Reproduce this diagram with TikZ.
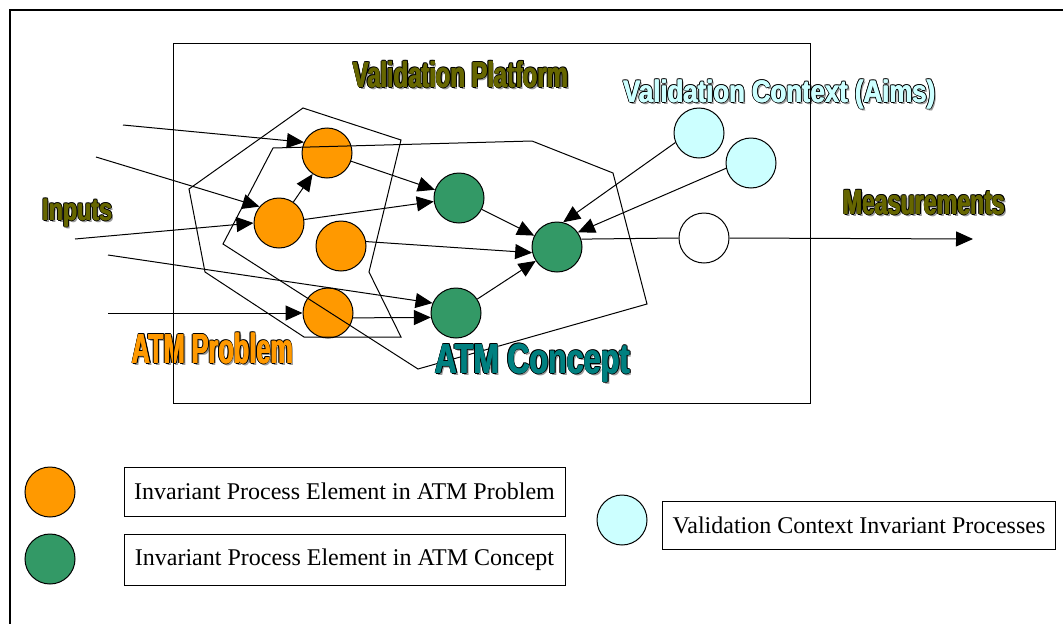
\documentclass[tikz,border=0pt]{standalone}
\usepackage{graphicx}
\usepackage{fontspec}
\setmainfont{Liberation Serif}
\newfontfamily\wafont{Liberation Sans}
\usetikzlibrary{arrows.meta}
\definecolor{orangeA}{HTML}{FF9900}
\definecolor{greenA}{HTML}{339966}
\definecolor{cyanA}{HTML}{CCFFFF}
\definecolor{oliveA}{HTML}{666600}
\definecolor{tealA}{HTML}{008080}
\newcommand{\wordart}[4]{%
  \setbox0=\hbox{\resizebox{#3}{\height}{\wafont\bfseries\fontsize{#2}{#2}\selectfont #4}}%
  \rlap{\kern2pt\raisebox{-2pt}{\textcolor{black!40}{\copy0}}}%
  \rlap{\kern1.2pt\textcolor{black}{\copy0}}%
  \rlap{\kern-1.2pt\textcolor{black}{\copy0}}%
  \rlap{\raisebox{1pt}{\textcolor{black}{\copy0}}}%
  \rlap{\raisebox{-1pt}{\textcolor{black}{\copy0}}}%
  \rlap{\kern0.9pt\raisebox{0.8pt}{\textcolor{black}{\copy0}}}%
  \rlap{\kern-0.9pt\raisebox{0.8pt}{\textcolor{black}{\copy0}}}%
  \rlap{\kern0.9pt\raisebox{-0.8pt}{\textcolor{black}{\copy0}}}%
  \rlap{\kern-0.9pt\raisebox{-0.8pt}{\textcolor{black}{\copy0}}}%
  \rlap{\kern0.4pt\textcolor{#1}{\copy0}}%
  \rlap{\kern-0.4pt\textcolor{#1}{\copy0}}%
  \textcolor{#1}{\copy0}}
\tikzset{
  proc/.style={circle, draw=black, line width=1pt, minimum size=50pt, inner sep=0pt},
  procP/.style={proc, fill=orangeA},
  procC/.style={proc, fill=greenA},
  procV/.style={proc, fill=cyanA},
  procW/.style={proc, fill=white},
  link/.style={line width=1pt},
  arr/.style={line width=1pt, -{Triangle[length=17pt,width=15pt]}},
  region/.style={line width=1pt},
  wa/.style={inner sep=0pt, anchor=base west},
  legbox/.style={draw=black, line width=1pt, inner sep=0pt, font=\fontsize{24}{28}\selectfont},
}
\begin{document}
\begin{tikzpicture}[x=1pt,y=-1pt]
\useasboundingbox (0,0) rectangle (1063,624);
% outer frame
\draw[line width=1.3pt] (1063,10) -- (10,10) -- (10,624);

% process elements
\node[procP] (ot)  at (327,153) {};
\node[procP] (oml) at (279,223) {};
\node[procP] (omr) at (341,246) {};
\node[procP] (ob)  at (328,313) {};
\node[procC] (gt)  at (459,198) {};
\node[procC] (gc)  at (557,247) {};
\node[procC] (gb)  at (456,313) {};
\node[procV] (c1)  at (699,133) {};
\node[procV] (c2)  at (751,163) {};
\node[procW] (wc)  at (704,238) {};

% regions
\draw[region] (303,108) -- (401,140) -- (369,272) -- (401,337) -- (304,337) -- (205,272) -- (189,189) -- cycle;
\draw[region] (273,148) -- (532,141) -- (613,173) -- (647,304) -- (418,369) -- (223,244) -- cycle;

% input ends
\coordinate (in1) at (123,125);
\coordinate (in2) at (96,157);
\coordinate (in3) at (75,239);
\coordinate (in4) at (108,255);
\coordinate (in5) at (108,313);
\coordinate (out) at (973,239);

% connectors
\draw[arr] (in1) -- (ot.155);
\draw[arr] (in2) -- (oml.140);
\draw[arr] (in3) -- (oml.west);
\draw[arr] (in4) -- (gb.157);
\draw[arr] (in5) -- (ob.west);
\draw[arr] (oml) -- (ot);
\draw[arr] (ot) -- (gt);
\draw[arr] (oml) -- (gt);
\draw[arr] (omr.10) -- (gc.193);
\draw[arr] (ob.-11) -- (gb.190);
\draw[arr] (gt) -- (gc);
\draw[arr] (gb) -- (gc);
\draw[arr] (c1.202) -- (gc.76);
\draw[arr] (c2.192) -- (gc.35);
\draw[link] (gc.18) -- (wc.west);
\draw[arr] (wc.east) -- (out);

% labels
\node[wa] (lvp) at (353,87) {\wordart{oliveA}{36}{215pt}{Validation Platform}};
\node[wa] (lvc) at (623,102) {\wordart{cyanA}{31}{312pt}{Validation Context (Aims)}};
\node[wa] (lin) at (42,220) {\wordart{oliveA}{31}{70pt}{Inputs}};
\node[wa] (lme) at (843,214) {\wordart{oliveA}{35}{162pt}{Measurements}};
\node[wa] (lap) at (132,363) {\wordart{orangeA}{42}{161pt}{ATM Problem}};
\node[wa] (lac) at (435,373) {\wordart{tealA}{42}{195pt}{ATM Concept}};

% validation platform frame
\draw[line width=1pt] (173,43) rectangle (810,403);

% legend
\node[procP] (kP) at (50,492) {};
\node[procC] (kC) at (50,559) {};
\node[procV] (kV) at (622,520) {};
\node[legbox, minimum width=441pt, minimum height=49pt] (tP) at (344.5,491.5) {Invariant Process Element in ATM Problem};
\node[legbox, minimum width=441pt, minimum height=51pt] (tC) at (344.5,559.5) {Invariant Process Element in ATM Concept};
\node[legbox, minimum width=393pt, minimum height=48pt] (tV) at (859,525) {Validation Context Invariant Processes};
\end{tikzpicture}
\end{document}
